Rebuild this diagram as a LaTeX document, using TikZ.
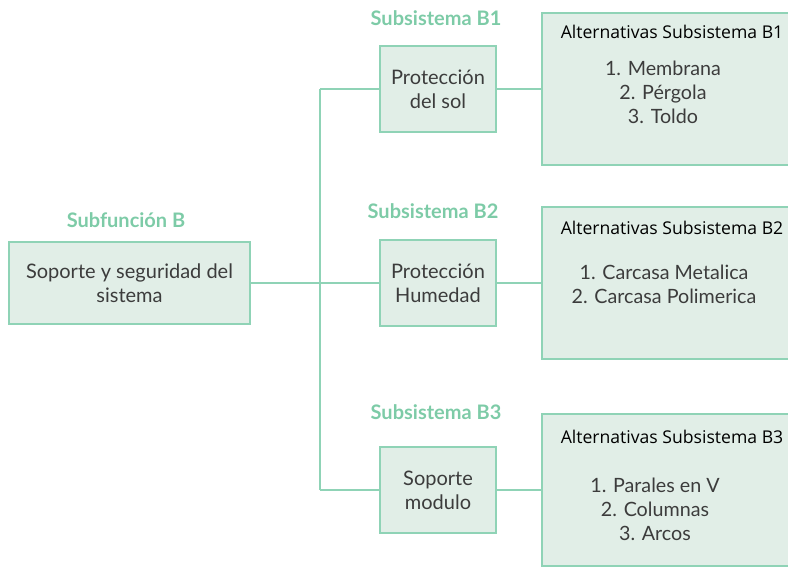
\documentclass[tikz,border=0pt]{standalone}
\usepackage{fontspec}
\setmainfont{Lato}
\newfontfamily\headfont{Open Sans}
\usetikzlibrary{positioning}
\definecolor{mintline}{HTML}{8FD3B6}
\definecolor{mintfill}{HTML}{E1EEE7}
\definecolor{mintlabel}{HTML}{7DCBA7}
\definecolor{greytext}{HTML}{3C3C3C}
\tikzset{
  caja/.style={draw=mintline, fill=mintfill, line width=2pt, text=greytext,
    align=center, inner sep=0pt, font=\fontsize{20}{24}\selectfont},
  alternativa/.style={caja, minimum width=260pt, minimum height=152pt},
  etiqueta/.style={text=mintlabel, font=\bfseries\fontsize{20}{24}\selectfont},
  lista/.style={text=greytext, align=center, font=\fontsize{19.7}{24}\selectfont},
  titulo/.style={text=black, font=\headfont\fontsize{17.6}{20}\selectfont},
  conector/.style={draw=mintline, line width=2pt}
}
\begin{document}
\begin{tikzpicture}[x=1pt,y=-1pt]
			\useasboundingbox (0,0) rectangle (788,567);
			\clip (0,0) rectangle (788,567);
			
			% subfuncion
			\node[etiqueta] (lblsub) at (126,220) {Subfunción B};
			\node[caja, minimum width=241pt, minimum height=81pt] (sub) at (129.5,283) {Soporte y seguridad del\\sistema};
			
			% subsistemas
			\node[etiqueta] (lblB1) at (436,18) {Subsistema B1};
			\node[etiqueta] (lblB2) at (433,211) {Subsistema B2};
			\node[etiqueta] (lblB3) at (436,412) {Subsistema B3};
			
			\node[caja, minimum width=116pt, minimum height=86pt] (B1) at (438,89) {Protección\\del sol};
			\node[caja, minimum width=116pt, minimum height=86pt] (B2) at (438,283) {Protección\\Humedad};
			\node[caja, minimum width=116pt, minimum height=86pt] (B3) at (438,490) {Soporte\\modulo};
			
			% alternativas
			\node[alternativa] (A1) at (672,89) {};
			\node[alternativa] (A2) at (672,283) {};
			\node[alternativa] (A3) at (672,490) {};
			
			\node[titulo] (tA1) at (672,32) {Alternativas Subsistema B1};
			\node[titulo] (tA2) at (672,228) {Alternativas Subsistema B2};
			\node[titulo] (tA3) at (672,437) {Alternativas Subsistema B3};
			
			\node[lista] (lA1) at (663,92) {1. Membrana\\2. Pérgola\\3. Toldo};
			\node[lista] (lA2) at (664,284) {1. Carcasa Metalica\\2. Carcasa Polimerica};
			\node[lista] (lA3) at (655,509) {1. Parales en V\\2. Columnas\\3. Arcos};
			
			% conectores
			\coordinate (busT) at (320,89);
			\coordinate (busB) at (320,490);
			\draw[conector] (busT) -- (busB);
			\draw[conector] (sub.east) -- (sub.east -| busT);
			\draw[conector] (busT) -- (B1.west);
			\draw[conector] (B2.west -| busT) -- (B2.west);
			\draw[conector] (busB) -- (B3.west);
			\draw[conector] (B1.east) -- (A1.west);
			\draw[conector] (B2.east) -- (A2.west);
			\draw[conector] (B3.east) -- (A3.west);
\end{tikzpicture}
\end{document}
